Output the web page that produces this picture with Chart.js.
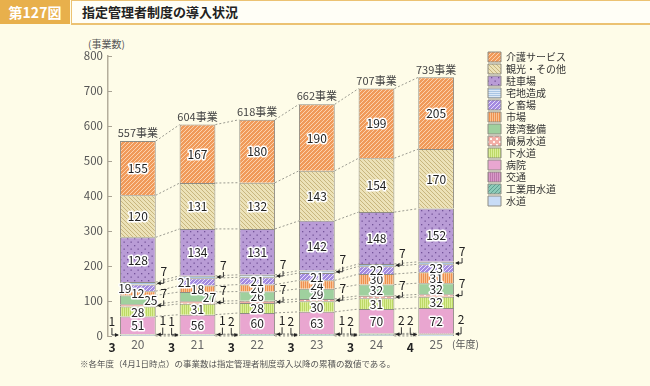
<!DOCTYPE html>
<html>
<head>
<meta charset="utf-8">
<script src="https://cdn.jsdelivr.net/npm/chart.js@4.4.0/dist/chart.umd.min.js"></script>
<style>
  body { margin: 0; width: 650px; height: 386px; background: #fefce8; position: relative; overflow: hidden; font-family: "Noto Sans CJK JP", sans-serif; }
  #fig-no { position: absolute; left: 0; top: 0; width: 70px; height: 24px; background: #e8b04c; color: #fff; font-weight: bold; font-size: 14px; line-height: 24px; text-align: center; }
  #fig-title { position: absolute; left: 71px; top: 0; width: 575px; height: 22px; background: #fffef6; border: 1px solid #ecc272; border-bottom-width: 2px; color: #222; font-weight: bold; font-size: 13px; line-height: 22px; padding-left: 10px; box-sizing: content-box; }
  #unit { position: absolute; left: 88px; top: 36px; font-size: 10px; color: #555; }
  #year-unit { position: absolute; left: 452px; top: 336px; font-size: 10px; color: #555; }
  #note { position: absolute; left: 80px; top: 357px; font-size: 8.5px; color: #555; }
  #wrap { position: absolute; left: 0; top: 20px; width: 650px; height: 340px; }
</style>
</head>
<body>
<div id="fig-no">第127図</div>
<div id="fig-title">指定管理者制度の導入状況</div>
<div id="unit">(事業数)</div>
<div id="wrap"><canvas id="chart" width="650" height="340"></canvas></div>
<div id="year-unit">(年度)</div>
<div id="note">※各年度（4月1日時点）の事業数は指定管理者制度導入以降の累積の数値である。</div>
<script>
// data (bottom of the stack first)
const years = ['20', '21', '22', '23', '24', '25']
const totals = [557, 604, 618, 662, 707, 739]
const suido = [3, 3, 3, 3, 3, 4]
const kogyoYosui = [1, 1, 2, 2, 2, 2]
const kotsu = [1, 1, 1, 1, 2, 2]
const byoin = [51, 56, 60, 63, 70, 72]
const gesuido = [28, 31, 28, 30, 31, 32]
const kaniSuido = [7, 7, 7, 7, 7, 7]
const kowan = [25, 27, 26, 29, 32, 32]
const ichiba = [12, 18, 20, 24, 30, 31]
const tochikujo = [19, 21, 21, 21, 22, 23]
const takuchi = [7, 7, 7, 7, 7, 7]
const chushajo = [128, 134, 131, 142, 148, 152]
const kanko = [120, 131, 132, 143, 154, 170]
const kaigo = [155, 167, 180, 190, 199, 205]

const FONT = '"Noto Sans CJK JP", sans-serif'

function makePattern(bg, fg, kind) {
  if (kind === 'solid') return bg
  const s = kind === 'dots' ? 7 : kind === 'bigdots' ? 6 : 4
  const c = document.createElement('canvas')
  c.width = s
  c.height = s
  const g = c.getContext('2d')
  g.fillStyle = bg
  g.fillRect(0, 0, s, s)
  g.strokeStyle = fg
  g.fillStyle = fg
  g.lineWidth = 1
  g.beginPath()
  if (kind === 'diagR') {
    for (let k = -1; k <= 1; k++) { g.moveTo(k * s, s); g.lineTo(k * s + s, 0) }
    g.stroke()
  } else if (kind === 'diagL') {
    for (let k = -1; k <= 1; k++) { g.moveTo(k * s, 0); g.lineTo(k * s + s, s) }
    g.stroke()
  } else if (kind === 'hlines') {
    g.fillRect(0, 0, s, 1)
    g.fillRect(0, 2, s, 1)
  } else if (kind === 'vlines') {
    g.fillRect(0, 0, 1, s)
    g.fillRect(2, 0, 1, s)
  } else if (kind === 'dots') {
    g.fillRect(1, 1, 1.3, 1.3)
    g.fillRect(4.5, 4.5, 1.3, 1.3)
  } else if (kind === 'bigdots') {
    g.fillRect(1, 1, 2, 2)
    g.fillRect(4, 4, 2, 2)
  }
  return g.createPattern(c, 'repeat')
}

const series = [
  { label: '水道', data: suido, bg: makePattern('#c8dcf6', '', 'solid') },
  { label: '工業用水道', data: kogyoYosui, bg: makePattern('#8ccab8', '#5e9f90', 'diagR') },
  { label: '交通', data: kotsu, bg: makePattern('#d99ac8', '#bd78ac', 'vlines') },
  { label: '病院', data: byoin, bg: makePattern('#e9a6d0', '', 'solid') },
  { label: '下水道', data: gesuido, bg: makePattern('#dcef98', '#bcd866', 'vlines') },
  { label: '簡易水道', data: kaniSuido, bg: makePattern('#f2aea6', '#fff4f0', 'bigdots') },
  { label: '港湾整備', data: kowan, bg: makePattern('#9fd09e', '', 'solid') },
  { label: '市場', data: ichiba, bg: makePattern('#ee9150', '#f8c294', 'vlines') },
  { label: 'と畜場', data: tochikujo, bg: makePattern('#a48be0', '#e6dcfa', 'diagR') },
  { label: '宅地造成', data: takuchi, bg: makePattern('#a9c5e3', '#dbe8f6', 'hlines') },
  { label: '駐車場', data: chushajo, bg: makePattern('#b99cd6', '#735399', 'dots') },
  { label: '観光・その他', data: kanko, bg: makePattern('#ece2b8', '#c8b67e', 'diagL') },
  { label: '介護サービス', data: kaigo, bg: makePattern('#f09a5a', '#fcd2ae', 'diagR') },
]

// labels drawn inside the bar, with small horizontal nudges where they crowd
const insideLabels = ['病院', '下水道', '港湾整備', '市場', 'と畜場', '駐車場', '観光・その他', '介護サービス']
const nudge = { '0-と畜場': -13, '0-港湾整備': 13, '1-と畜場': -13, '1-港湾整備': 12 }

function textOutlined(ctx, text, x, y) {
  ctx.lineWidth = 3
  ctx.strokeStyle = '#fff'
  ctx.lineJoin = 'round'
  ctx.strokeText(text, x, y)
  ctx.fillStyle = '#222'
  ctx.fillText(text, x, y)
}

function arrowHead(ctx, x, y, dir) {
  ctx.beginPath()
  ctx.moveTo(x, y)
  ctx.lineTo(x - 4 * dir, y - 2)
  ctx.lineTo(x - 4 * dir, y + 2)
  ctx.closePath()
  ctx.fill()
}

const barLabels = {
  id: 'barLabels',
  beforeDatasetsDraw(chart) {
    const ctx = chart.ctx
    const metas = series.map((s, i) => chart.getDatasetMeta(i))
    ctx.save()
    ctx.strokeStyle = '#9a9a90'
    ctx.lineWidth = 1
    ctx.setLineDash([2, 2])
    for (let j = 0; j < years.length - 1; j++) {
      const a = metas[0].data[j], b = metas[0].data[j + 1]
      const levels = [[a.base, b.base]].concat(metas.map(m => [m.data[j].y, m.data[j + 1].y]))
      levels.forEach(([ya, yb]) => {
        ctx.beginPath()
        ctx.moveTo(a.x + a.width / 2, ya)
        ctx.lineTo(b.x - b.width / 2, yb)
        ctx.stroke()
      })
    }
    ctx.restore()
    // inside ticks on the value axis
    const ys = chart.scales.y
    ctx.save()
    ctx.strokeStyle = '#a8a294'
    ctx.lineWidth = 1
    ys.ticks.forEach(t => {
      const py = Math.round(ys.getPixelForValue(t.value)) + 0.5
      ctx.beginPath()
      ctx.moveTo(ys.right, py)
      ctx.lineTo(ys.right + 4, py)
      ctx.stroke()
    })
    ctx.restore()
  },
  afterDatasetsDraw(chart) {
    const ctx = chart.ctx
    ctx.save()
    ctx.textAlign = 'center'
    ctx.textBaseline = 'middle'
    series.forEach((s, i) => {
      const meta = chart.getDatasetMeta(i)
      meta.data.forEach((el, j) => {
        const left = el.x - el.width / 2
        const right = el.x + el.width / 2
        const mid = (el.y + el.base) / 2
        const val = String(s.data[j])
        if (insideLabels.includes(s.label)) {
          ctx.font = '12px ' + FONT
          textOutlined(ctx, val, el.x + (nudge[j + '-' + s.label] || 0), mid + 0.5)
        } else {
          ctx.font = '12px ' + FONT
          ctx.fillStyle = '#222'
          ctx.strokeStyle = '#333'
          ctx.lineWidth = 1
          if (s.label === '宅地造成' || s.label === '簡易水道') {
            ctx.fillText(val, right + 8, mid - 12)
            ctx.beginPath()
            ctx.moveTo(right + 8, mid - 5)
            ctx.lineTo(right + 8, mid)
            ctx.lineTo(right + 2, mid)
            ctx.stroke()
            arrowHead(ctx, right + 1, mid, -1)
          } else if (s.label === '工業用水道') {
            ctx.fillText(val, left - 8, el.base - 14)
            ctx.beginPath()
            ctx.moveTo(left - 8, el.base - 7)
            ctx.lineTo(left - 8, el.base)
            ctx.lineTo(left - 2, el.base)
            ctx.stroke()
            arrowHead(ctx, left - 1, el.base, 1)
          } else if (s.label === '交通') {
            ctx.fillText(val, right + 7, el.base - 14)
            ctx.beginPath()
            ctx.moveTo(right + 7, el.base - 7)
            ctx.lineTo(right + 7, el.base)
            ctx.lineTo(right + 2, el.base)
            ctx.stroke()
            arrowHead(ctx, right + 1, el.base, -1)
          } else if (s.label === '水道') {
            ctx.font = 'bold 12px ' + FONT
            ctx.fillText(val, left - 8, el.base + 11)
          }
        }
      })
    })
    // totals above the bars
    const top = chart.getDatasetMeta(series.length - 1)
    ctx.font = '11px ' + FONT
    ctx.fillStyle = '#444'
    top.data.forEach((el, j) => {
      ctx.fillText(totals[j] + '事業', el.x, el.y - 8)
    })
    ctx.restore()
  },
}

new Chart(document.querySelector('#chart'), {
  type: 'bar',
  data: {
    labels: years,
    datasets: series.map(s => ({
      label: s.label,
      data: s.data,
      backgroundColor: s.bg,
      borderColor: '#8e8c84',
      borderWidth: 1,
      barPercentage: 0.6,
      categoryPercentage: 1,
    })),
  },
  options: {
    responsive: false,
    animation: false,
    layout: { padding: { left: 0, right: 74, top: 30, bottom: 0 } },
    plugins: {
      legend: {
        position: 'right',
        align: 'start',
        reverse: true,
        labels: {
          boxWidth: 13,
          boxHeight: 10,
          padding: 2,
          color: '#333',
          font: { family: FONT, size: 10 },
        },
      },
      tooltip: { enabled: false },
    },
    scales: {
      x: {
        stacked: true,
        grid: { display: false, drawTicks: false },
        border: { display: false },
        ticks: { color: '#666', padding: 1, font: { family: FONT, size: 12 } },
        afterFit: (scale) => { scale.height = 24 },
      },
      y: {
        stacked: true,
        min: 0,
        max: 800,
        grid: { display: false, drawTicks: false },
        border: { display: true, color: '#b4ae9c', width: 1.5 },
        ticks: { stepSize: 100, color: '#555', padding: 5, font: { family: FONT, size: 11.5 } },
        afterFit: (scale) => { scale.width = 108 },
      },
      gapTop: {
        type: 'linear',
        position: 'top',
        display: true,
        grid: { display: false },
        border: { display: false },
        ticks: { display: false },
        afterFit: (scale) => { scale.height = 6 },
      },
      gapRight: {
        type: 'linear',
        position: 'right',
        display: true,
        grid: { display: false },
        border: { display: false },
        ticks: { display: false },
        afterFit: (scale) => { scale.width = 20 },
      },
    },
  },
  plugins: [barLabels],
})
</script>
</body>
</html>
